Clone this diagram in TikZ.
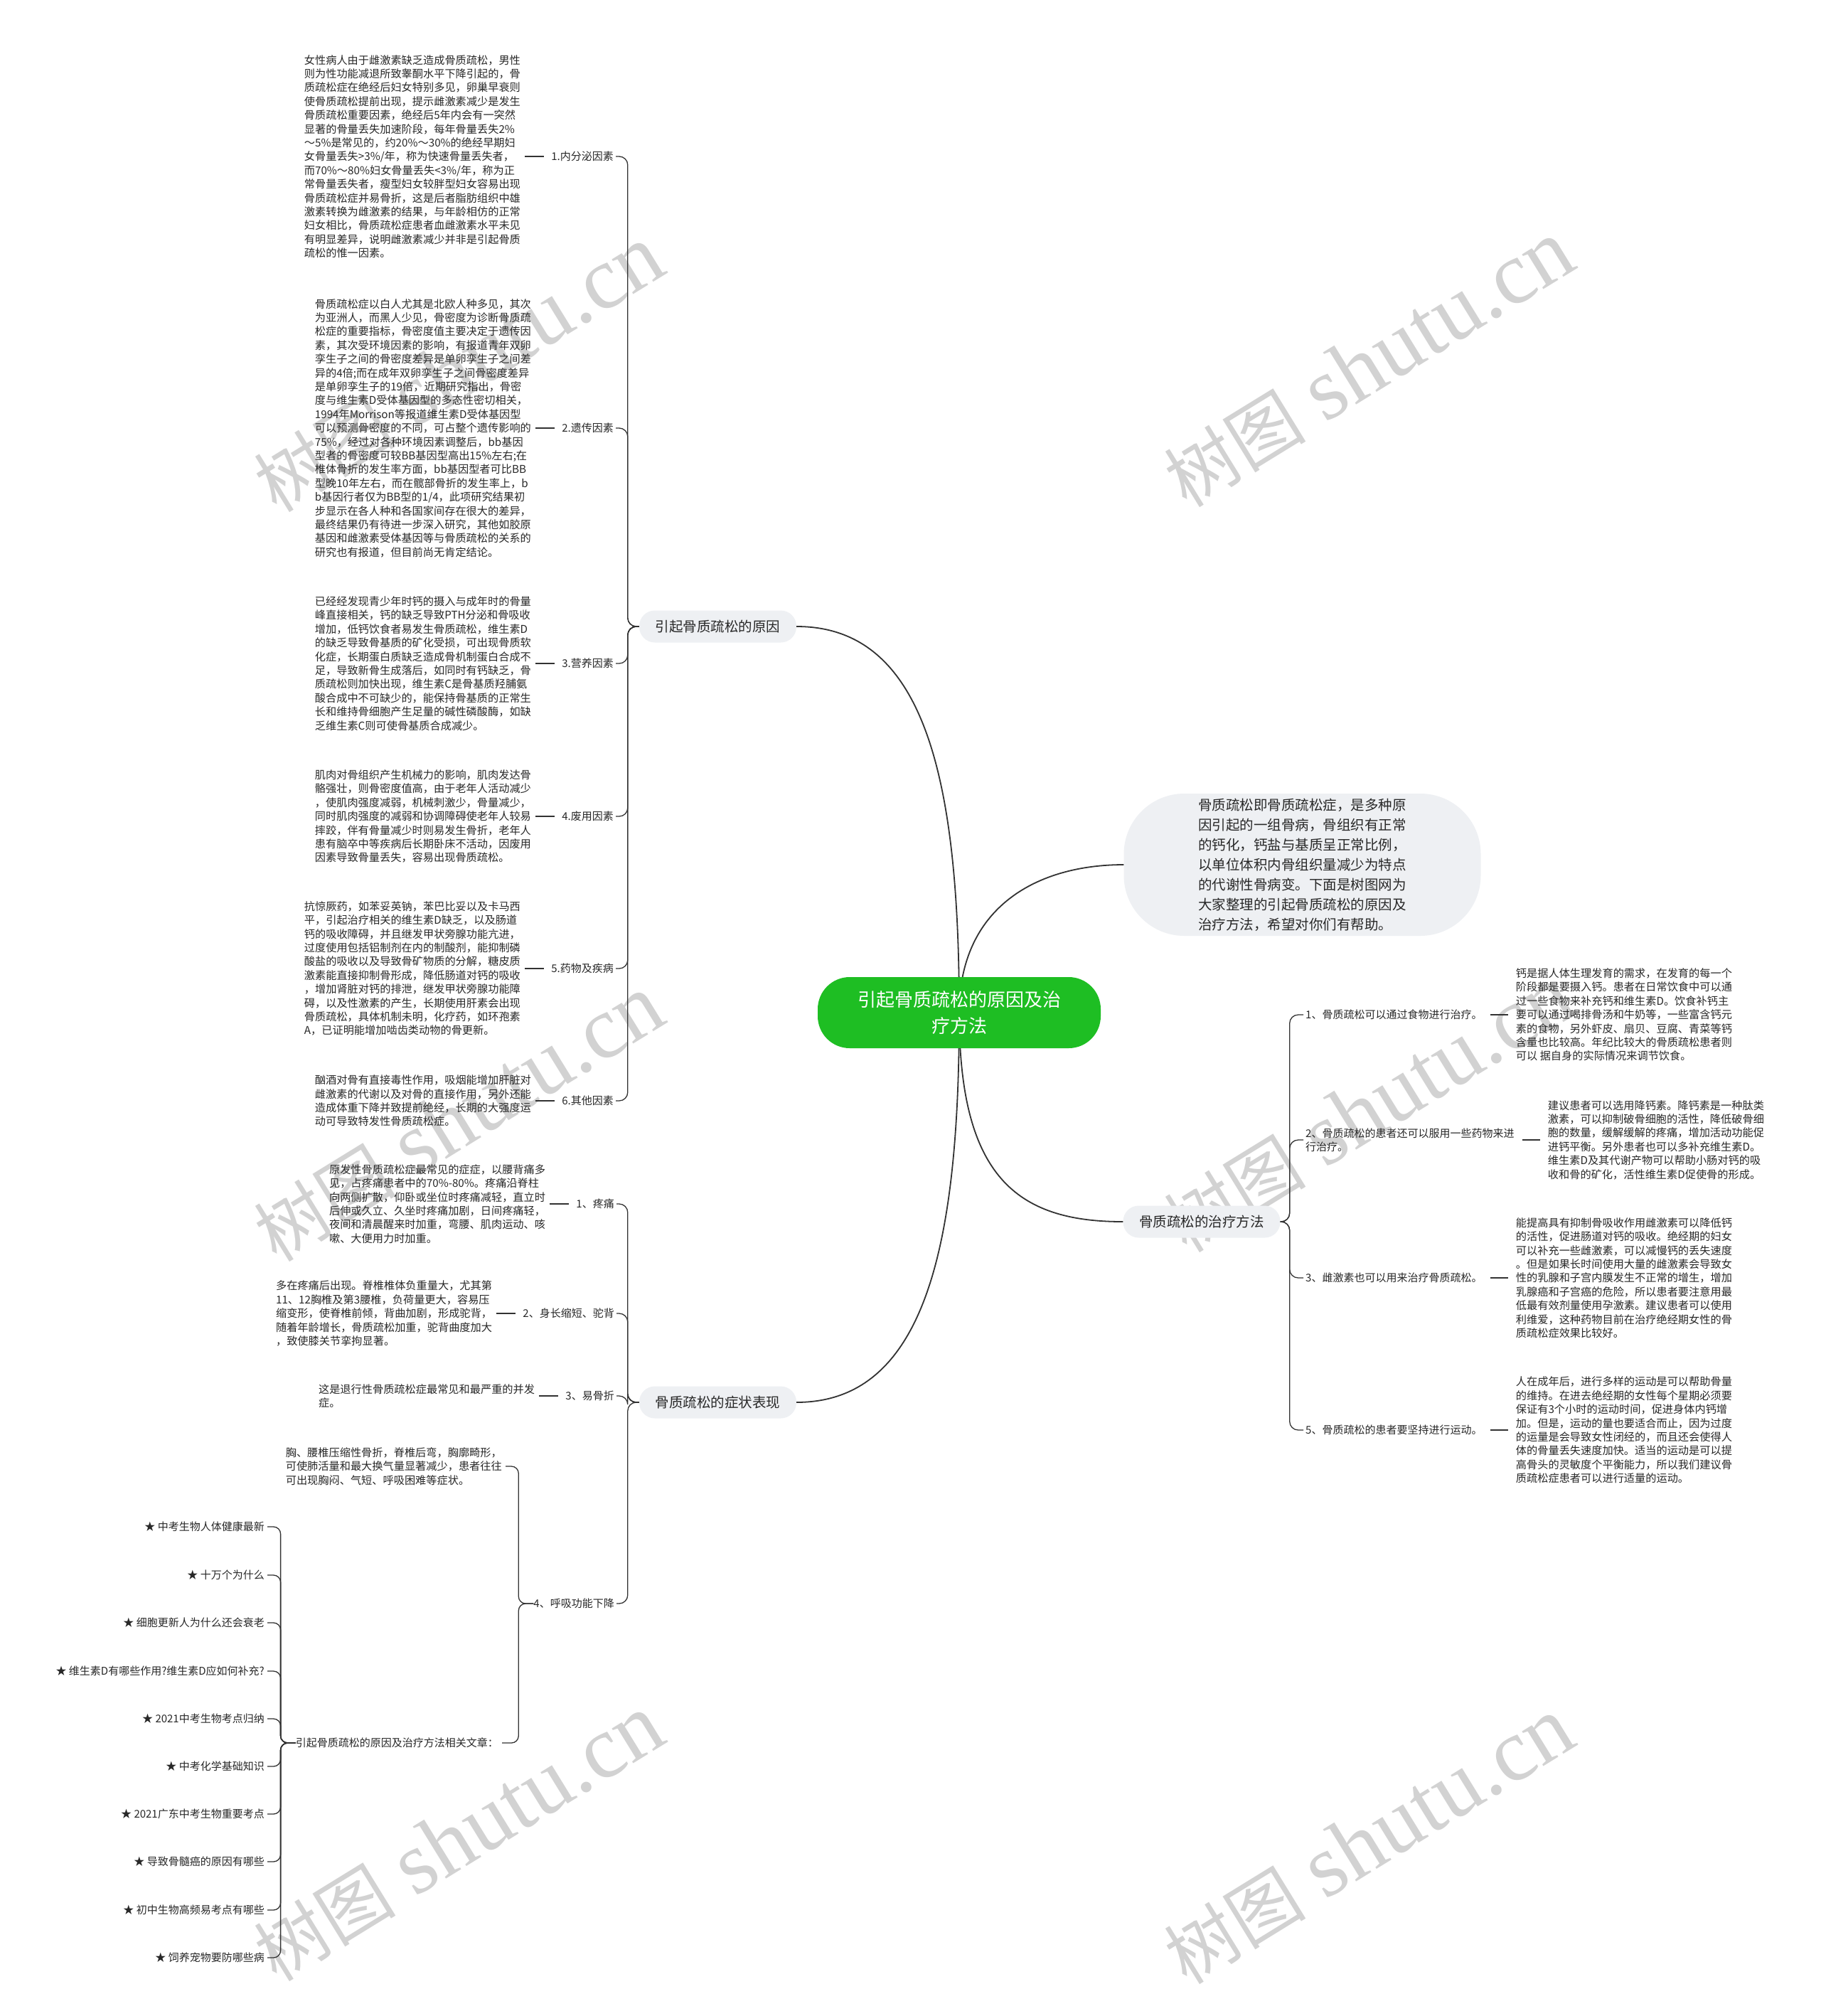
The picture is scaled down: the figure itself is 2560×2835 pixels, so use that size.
\documentclass[tikz,border=0pt]{standalone}
\usepackage{fontspec}
\setmainfont{Noto Sans CJK SC}
\newfontfamily\wmserif{Liberation Serif}
\usetikzlibrary{positioning}
\definecolor{ink}{RGB}{40,40,40}
\definecolor{boxgrey}{RGB}{238,240,243}
\definecolor{leafgreen}{RGB}{30,190,35}
\definecolor{wmgrey}{RGB}{210,210,210}
\definecolor{linec}{RGB}{50,50,50}
\tikzset{
  tb/.style={inner sep=0pt, align=left, font=\fontsize{15.2}{19.4}\selectfont, text=ink},
  lab/.style={inner sep=0pt, font=\fontsize{15}{19}\selectfont, text=ink},
  conn/.style={draw=linec, line width=1.3pt},
  mainconn/.style={draw=linec, line width=1.8pt},
  pbox/.style={fill=boxgrey, rounded corners=22pt, minimum width=221pt, minimum height=45pt, inner sep=0pt, font=\fontsize{19.5}{24}\selectfont, text=ink},
  wm/.style={text=wmgrey, font=\fontsize{100}{100}\selectfont, inner sep=0pt, rotate=31.6}
}
\newcommand{\wmtext}{树图\hspace{28pt}{\wmserif\fontsize{125}{125}\selectfont shutu.cn}}
\begin{document}
\begin{tikzpicture}[x=1pt,y=-1pt]
\useasboundingbox (0,0) rectangle (2560,2835);
\fill[white] (0,0) rectangle (2560,2835);
% watermarks
\node[wm] (wm1) at (645,519) {\wmtext};
\node[wm] (wm2) at (1925,512) {\wmtext};
\node[wm] (wm3) at (645,1573) {\wmtext};
\node[wm] (wm4) at (1925,1560) {\wmtext};
\node[wm] (wm5) at (645,2585) {\wmtext};
\node[wm] (wm6) at (1925,2589) {\wmtext};

% level-1 boxes
\node[pbox] (p1) at (1009.5,881) {引起骨质疏松的原因};
\node[pbox] (p2) at (1009.5,1972) {骨质疏松的症状表现};
\node[pbox] (p3) at (1690,1718) {骨质疏松的治疗方法};
\node[fill=boxgrey, rounded corners=85pt, minimum width=502pt, minimum height=200pt, inner sep=0pt, align=left, text=ink, font=\fontsize{19.5}{28}\selectfont] (intro) at (1831.5,1216) {骨质疏松即骨质疏松症，是多种原\\因引起的一组骨病，骨组织有正常\\的钙化，钙盐与基质呈正常比例，\\以单位体积内骨组织量减少为特点\\的代谢性骨病变。下面是树图网为\\大家整理的引起骨质疏松的原因及\\治疗方法，希望对你们有帮助。};

\coordinate (cx) at (1349,1424);
\draw[mainconn] (p1.east) .. controls +(180,0) and +(0,-330) .. (cx);
\draw[mainconn] (p2.east) .. controls +(180,0) and +(0,330) .. (cx);
\draw[mainconn] (cx) .. controls +(0,-150) and +(-120,0) .. (intro.west);
\draw[mainconn] (cx) .. controls +(0,230) and +(-150,0) .. (p3.west);
\node[fill=leafgreen, rounded corners=45pt, minimum width=398pt, minimum height=100pt, inner sep=0pt, align=center, text=white, font=\fontsize{26}{37}\selectfont] (c) at (cx) {引起骨质疏松的原因及治\\疗方法};

% ---------- causes ----------
\node[lab, anchor=east] (ca1) at (863,220) {1.内分泌因素};
\node[lab, anchor=east] (ca2) at (863,602) {2.遗传因素};
\node[lab, anchor=east] (ca3) at (863,933) {3.营养因素};
\node[lab, anchor=east] (ca4) at (863,1148) {4.废用因素};
\node[lab, anchor=east] (ca5) at (863,1362) {5.药物及疾病};
\node[lab, anchor=east] (ca6) at (863,1548) {6.其他因素};

\node[tb, left=43pt of ca1] (cb1) {女性病人由于雌激素缺乏造成骨质疏松，男性\\则为性功能减退所致睾酮水平下降引起的，骨\\质疏松症在绝经后妇女特别多见，卵巢早衰则\\使骨质疏松提前出现，提示雌激素减少是发生\\骨质疏松重要因素，绝经后5年内会有一突然\\显著的骨量丢失加速阶段，每年骨量丢失2\%\\～5\%是常见的，约20\%～30\%的绝经早期妇\\女骨量丢失>3\%/年，称为快速骨量丢失者，\\而70\%～80\%妇女骨量丢失<3\%/年，称为正\\常骨量丢失者，瘦型妇女较胖型妇女容易出现\\骨质疏松症并易骨折，这是后者脂肪组织中雄\\激素转换为雌激素的结果，与年龄相仿的正常\\妇女相比，骨质疏松症患者血雌激素水平未见\\有明显差异，说明雌激素减少并非是引起骨质\\疏松的惟一因素。};
\node[tb, left=43pt of ca2] (cb2) {骨质疏松症以白人尤其是北欧人种多见，其次\\为亚洲人，而黑人少见，骨密度为诊断骨质疏\\松症的重要指标，骨密度值主要决定于遗传因\\素，其次受环境因素的影响，有报道青年双卵\\孪生子之间的骨密度差异是单卵孪生子之间差\\异的4倍;而在成年双卵孪生子之间骨密度差异\\是单卵孪生子的19倍，近期研究指出，骨密\\度与维生素D受体基因型的多态性密切相关，\\1994年Morrison等报道维生素D受体基因型\\可以预测骨密度的不同，可占整个遗传影响的\\75\%，经过对各种环境因素调整后，bb基因\\型者的骨密度可较BB基因型高出15\%左右;在\\椎体骨折的发生率方面，bb基因型者可比BB\\型晚10年左右，而在髋部骨折的发生率上，b\\b基因行者仅为BB型的1/4，此项研究结果初\\步显示在各人种和各国家间存在很大的差异，\\最终结果仍有待进一步深入研究，其他如胶原\\基因和雌激素受体基因等与骨质疏松的关系的\\研究也有报道，但目前尚无肯定结论。};
\node[tb, left=43pt of ca3] (cb3) {已经经发现青少年时钙的摄入与成年时的骨量\\峰直接相关，钙的缺乏导致PTH分泌和骨吸收\\增加，低钙饮食者易发生骨质疏松，维生素D\\的缺乏导致骨基质的矿化受损，可出现骨质软\\化症，长期蛋白质缺乏造成骨机制蛋白合成不\\足，导致新骨生成落后，如同时有钙缺乏，骨\\质疏松则加快出现，维生素C是骨基质羟脯氨\\酸合成中不可缺少的，能保持骨基质的正常生\\长和维持骨细胞产生足量的碱性磷酸酶，如缺\\乏维生素C则可使骨基质合成减少。};
\node[tb, left=43pt of ca4] (cb4) {肌肉对骨组织产生机械力的影响，肌肉发达骨\\骼强壮，则骨密度值高，由于老年人活动减少\\，使肌肉强度减弱，机械刺激少，骨量减少，\\同时肌肉强度的减弱和协调障碍使老年人较易\\摔跤，伴有骨量减少时则易发生骨折，老年人\\患有脑卒中等疾病后长期卧床不活动，因废用\\因素导致骨量丢失，容易出现骨质疏松。};
\node[tb, left=43pt of ca5] (cb5) {抗惊厥药，如苯妥英钠，苯巴比妥以及卡马西\\平，引起治疗相关的维生素D缺乏，以及肠道\\钙的吸收障碍，并且继发甲状旁腺功能亢进，\\过度使用包括铝制剂在内的制酸剂，能抑制磷\\酸盐的吸收以及导致骨矿物质的分解，糖皮质\\激素能直接抑制骨形成，降低肠道对钙的吸收\\，增加肾脏对钙的排泄，继发甲状旁腺功能障\\碍，以及性激素的产生，长期使用肝素会出现\\骨质疏松，具体机制未明，化疗药，如环孢素\\A，已证明能增加啮齿类动物的骨更新。};
\node[tb, left=43pt of ca6] (cb6) {酗酒对骨有直接毒性作用，吸烟能增加肝脏对\\雌激素的代谢以及对骨的直接作用，另外还能\\造成体重下降并致提前绝经，长期的大强度运\\动可导致特发性骨质疏松症。};

\foreach \i in {1,...,6}{
  \draw[conn, shorten <=6pt, shorten >=10pt] (cb\i.east) -- (ca\i.west);
  \draw[conn, rounded corners=12pt] ([xshift=3pt]ca\i.east) -| ([xshift=-16pt]p1.west) -- (p1.west);
}

% ---------- symptoms ----------
\node[lab, anchor=east] (sa1) at (864,1693) {1、疼痛};
\node[lab, anchor=east] (sa2) at (864,1847) {2、身长缩短、驼背};
\node[lab, anchor=east] (sa3) at (864,1963) {3、易骨折};
\node[lab, anchor=east] (sa4) at (864,2255) {4、呼吸功能下降};

\node[tb, left=43pt of sa1] (sb1) {原发性骨质疏松症最常见的症症，以腰背痛多\\见，占疼痛患者中的70\%-80\%。疼痛沿脊柱\\向两侧扩散，仰卧或坐位时疼痛减轻，直立时\\后伸或久立、久坐时疼痛加剧，日间疼痛轻，\\夜间和清晨醒来时加重，弯腰、肌肉运动、咳\\嗽、大便用力时加重。};
\node[tb, left=43pt of sa2] (sb2) {多在疼痛后出现。脊椎椎体负重量大，尤其第\\11、12胸椎及第3腰椎，负荷量更大，容易压\\缩变形，使脊椎前倾，背曲加剧，形成驼背，\\随着年龄增长，骨质疏松加重，驼背曲度加大\\，致使膝关节挛拘显著。};
\node[tb, left=43pt of sa3] (sb3) {这是退行性骨质疏松症最常见和最严重的并发\\症。};

\foreach \i in {1,2,3}{
  \draw[conn, shorten <=6pt, shorten >=10pt] (sb\i.east) -- (sa\i.west);
}
\foreach \i in {1,...,4}{
  \draw[conn, rounded corners=12pt] ([xshift=3pt]sa\i.east) -| ([xshift=-16pt]p2.west) -- (p2.west);
}

\node[tb, anchor=east] (hx) at (706,2062) {胸、腰椎压缩性骨折，脊椎后弯，胸廓畸形，\\可使肺活量和最大换气量显著减少，患者往往\\可出现胸闷、气短、呼吸困难等症状。};
\node[lab, anchor=east] (rel) at (701,2451) {引起骨质疏松的原因及治疗方法相关文章：};
\draw[conn, rounded corners=10pt] (sa4.west) -- ++(-21,0) |- ([xshift=5pt]hx.east);
\draw[conn, rounded corners=10pt] (sa4.west) -- ++(-21,0) |- ([xshift=5pt]rel.east);

\node[lab, anchor=east] (st1) at (372,2147) {★ 中考生物人体健康最新};
\node[lab, anchor=east] (st2) at (372,2215) {★ 十万个为什么};
\node[lab, anchor=east] (st3) at (372,2282) {★ 细胞更新人为什么还会衰老};
\node[lab, anchor=east] (st4) at (372,2350) {★ 维生素D有哪些作用?维生素D应如何补充?};
\node[lab, anchor=east] (st5) at (372,2417) {★ 2021中考生物考点归纳};
\node[lab, anchor=east] (st6) at (372,2484) {★ 中考化学基础知识};
\node[lab, anchor=east] (st7) at (372,2551) {★ 2021广东中考生物重要考点};
\node[lab, anchor=east] (st8) at (372,2618) {★ 导致骨髓癌的原因有哪些};
\node[lab, anchor=east] (st9) at (372,2686) {★ 初中生物高频易考点有哪些};
\node[lab, anchor=east] (st10) at (372,2753) {★ 饲养宠物要防哪些病};
\foreach \i in {1,...,10}{
  \draw[conn, rounded corners=10pt] (rel.west) -- ++(-21,0) |- ([xshift=4pt]st\i.east);
}

% ---------- treatment ----------
\node[lab, anchor=west] (ta1) at (1836,1427) {1、骨质疏松可以通过食物进行治疗。};
\node[lab, anchor=west, align=left] (ta2) at (1836,1603) {2、骨质疏松的患者还可以服用一些药物来进\\行治疗。};
\node[lab, anchor=west] (ta3) at (1836,1797) {3、雌激素也可以用来治疗骨质疏松。};
\node[lab, anchor=west] (ta5) at (1836,2011) {5、骨质疏松的患者要坚持进行运动。};

\node[tb, right=47pt of ta1] (rb1) {钙是据人体生理发育的需求，在发育的每一个\\阶段都是要摄入钙。患者在日常饮食中可以通\\过一些食物来补充钙和维生素D。饮食补钙主\\要可以通过喝排骨汤和牛奶等，一些富含钙元\\素的食物，另外虾皮、扇贝、豆腐、青菜等钙\\含量也比较高。年纪比较大的骨质疏松患者则\\可以 据自身的实际情况来调节饮食。};
\node[tb, right=47pt of ta2] (rb2) {建议患者可以选用降钙素。降钙素是一种肽类\\激素，可以抑制破骨细胞的活性，降低破骨细\\胞的数量，缓解缓解的疼痛，增加活动功能促\\进钙平衡。另外患者也可以多补充维生素D。\\维生素D及其代谢产物可以帮助小肠对钙的吸\\收和骨的矿化，活性维生素D促使骨的形成。};
\node[tb, right=47pt of ta3] (rb3) {能提高具有抑制骨吸收作用雌激素可以降低钙\\的活性，促进肠道对钙的吸收。绝经期的妇女\\可以补充一些雌激素，可以减慢钙的丢失速度\\。但是如果长时间使用大量的雌激素会导致女\\性的乳腺和子宫内膜发生不正常的增生，增加\\乳腺癌和子宫癌的危险，所以患者要注意用最\\低最有效剂量使用孕激素。建议患者可以使用\\利维爱，这种药物目前在治疗绝经期女性的骨\\质疏松症效果比较好。};
\node[tb, right=47pt of ta5] (rb5) {人在成年后，进行多样的运动是可以帮助骨量\\的维持。在进去绝经期的女性每个星期必须要\\保证有3个小时的运动时间，促进身体内钙增\\加。但是，运动的量也要适合而止，因为过度\\的运量是会导致女性闭经的，而且还会使得人\\体的骨量丢失速度加快。适当的运动是可以提\\高骨头的灵敏度个平衡能力，所以我们建议骨\\质疏松症患者可以进行适量的运动。};

\foreach \i in {1,2,3,5}{
  \draw[conn, shorten <=11pt, shorten >=11pt] (ta\i.east) -- (rb\i.west);
  \draw[conn, rounded corners=12pt] (p3.east) -- ++(13,0) |- ([xshift=-3pt]ta\i.west);
}
\end{tikzpicture}
\end{document}
